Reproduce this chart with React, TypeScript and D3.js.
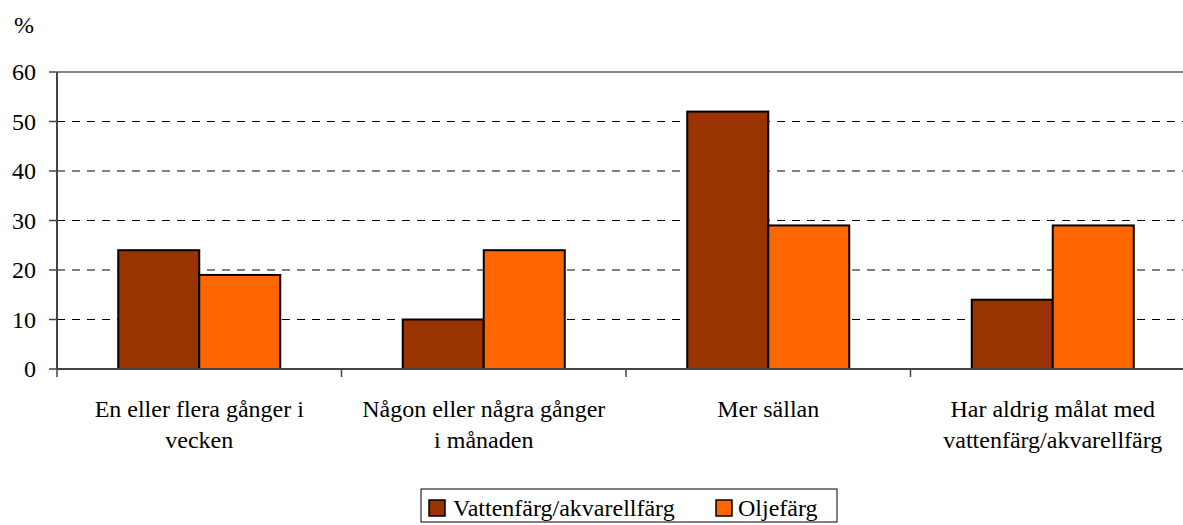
import React from "react";
import * as d3 from "d3";

const categories: string[][] = [
  ["En eller flera gånger i", "vecken"],
  ["Någon eller några gånger", "i månaden"],
  ["Mer sällan"],
  ["Har aldrig målat med", "vattenfärg/akvarellfärg"],
];
const seriesNames = ["Vattenfärg/akvarellfärg", "Oljefärg"];
const vatten = [24, 10, 52, 14];
const olja = [19, 24, 29, 29];
const colors = ["#993300", "#FF6600"];
const yTicks = [0, 10, 20, 30, 40, 50, 60];

export default function App() {
  const W = 1183, H = 525;
  const left = 57, right = 1195, top = 72, bottom = 369;
  const x0 = d3.scaleBand<number>().domain(categories.map((_, i) => i)).range([left, right]).padding(0);
  const x1 = d3.scaleBand<number>().domain([0, 1]).range([0, x0.bandwidth()]).paddingInner(0).paddingOuter(0.756);
  const y = d3.scaleLinear().domain([0, 60]).range([bottom, top]);
  const ts: React.CSSProperties = { fontFamily: "'Liberation Serif', 'Times New Roman', serif", fontSize: "24px" };
  const series = [vatten, olja];
  return (
    <svg width={W} height={H} style={{ position: "absolute", left: 0, top: 0 }}>
      <rect x={0} y={0} width={W} height={H} fill="#fff" />
      <text x={14} y={33} style={ts}>%</text>
      {yTicks.filter((t) => t > 0 && t < 60).map((t) => (
        <line key={t} x1={left} x2={right} y1={y(t)} y2={y(t)} stroke="#000" strokeWidth={1} strokeDasharray="8,7" />
      ))}
      <line x1={left} x2={right} y1={top} y2={top} stroke="#888" strokeWidth={2} />
      {series.map((vals, s) =>
        vals.map((v, i) => (
          <rect key={`${s}-${i}`} x={x0(i)! + x1(s)!} y={y(v)} width={x1.bandwidth()} height={y(0) - y(v)}
            fill={colors[s]} stroke="#000" strokeWidth={2} />
        ))
      )}
      <line x1={left} x2={left} y1={top} y2={bottom} stroke="#444" strokeWidth={2} />
      <line x1={left} x2={right} y1={bottom} y2={bottom} stroke="#444" strokeWidth={2} />
      {yTicks.map((t) => (
        <g key={t}>
          <line x1={left - 8} x2={left} y1={y(t)} y2={y(t)} stroke="#444" strokeWidth={1.5} />
          <text x={36} y={y(t) + 8} style={ts} textAnchor="end">{t}</text>
        </g>
      ))}
      {categories.map((_, i) => (
        <line key={i} x1={x0(i)!} x2={x0(i)!} y1={bottom} y2={bottom + 8} stroke="#444" strokeWidth={1.5} />
      ))}
      {categories.map((lines, i) =>
        lines.map((l, j) => (
          <text key={`${i}-${j}`} x={x0(i)! + x0.bandwidth() / 2} y={417 + j * 31} style={ts} textAnchor="middle">{l}</text>
        ))
      )}
      <rect x={421} y={489} width={416} height={33} fill="#fff" stroke="#000" strokeWidth={1} />
      <rect x={429} y={500} width={16} height={16} fill={colors[0]} stroke="#000" strokeWidth={1.5} />
      <text x={453} y={516} style={ts}>{seriesNames[0]}</text>
      <rect x={716} y={500} width={16} height={16} fill={colors[1]} stroke="#000" strokeWidth={1.5} />
      <text x={738} y={516} style={ts}>{seriesNames[1]}</text>
    </svg>
  );
}
